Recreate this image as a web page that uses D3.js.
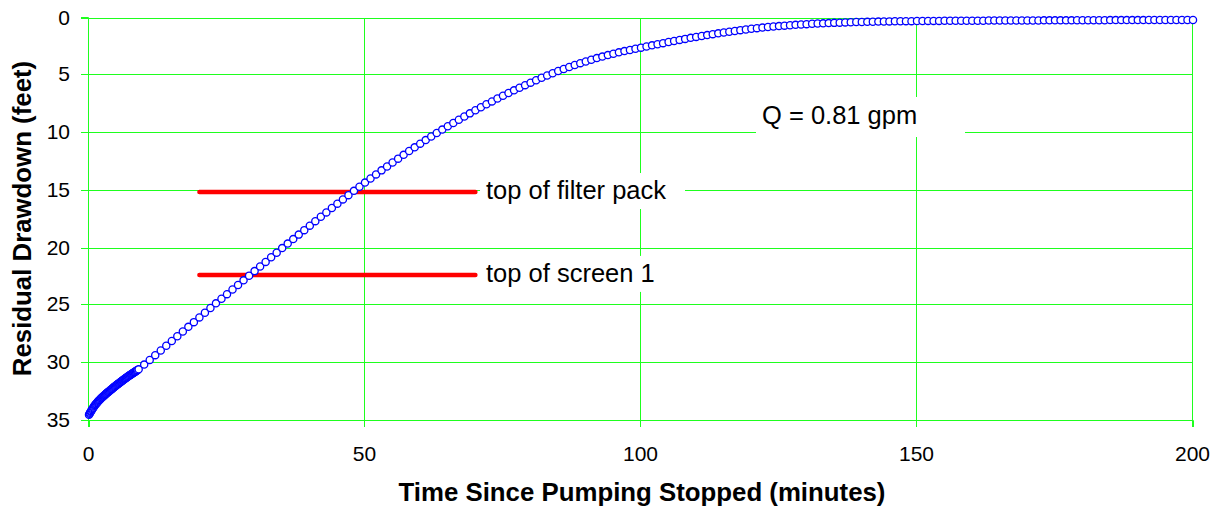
<!DOCTYPE html>
<html>
<head>
<meta charset="utf-8">
<script src="https://cdn.jsdelivr.net/npm/d3@7"></script>
<style>
  html, body { margin: 0; padding: 0; background: #fff; }
  svg { display: block; }
  text { font-family: "Liberation Sans", Arial, sans-serif; fill: #000; }
</style>
</head>
<body>
<svg id="chart" width="1223" height="512"></svg>
<script>
// Recovery record: residual drawdown after the pump was shut off.
// Transducer logged every 6 seconds for the first minutes, then once per minute.
const earlyTimes = d3.range(89).map(i => i / 10);   // 0.0 … 8.8 min
const earlyDrawdown = [
  34.55, 34.46, 34.37, 34.29, 34.21, 34.13, 34.05, 33.98, 33.91, 33.83,
  33.76, 33.70, 33.64, 33.58, 33.52, 33.47, 33.42, 33.36, 33.31, 33.26,
  33.21, 33.16, 33.12, 33.07, 33.03, 32.98, 32.94, 32.89, 32.85, 32.80,
  32.76, 32.72, 32.68, 32.64, 32.60, 32.56, 32.52, 32.48, 32.44, 32.40,
  32.36, 32.32, 32.28, 32.24, 32.20, 32.16, 32.12, 32.08, 32.04, 32.00,
  31.96, 31.92, 31.89, 31.85, 31.82, 31.78, 31.74, 31.71, 31.67, 31.64,
  31.60, 31.56, 31.53, 31.49, 31.46, 31.42, 31.38, 31.35, 31.31, 31.28,
  31.24, 31.21, 31.18, 31.14, 31.11, 31.08, 31.05, 31.02, 30.98, 30.95,
  30.92, 30.89, 30.86, 30.82, 30.79, 30.76, 30.73, 30.70, 30.66];

// one reading per minute, 9 through 200 minutes
const minuteTimes = d3.range(9, 201);
const minuteDrawdown = [
  30.60, 30.19, 29.78, 29.37, 28.96, 28.55, 28.14, 27.73, 27.32, 26.91, 26.50, 26.09, 25.68, 25.27,
  24.87, 24.47, 24.07, 23.67, 23.27, 22.87, 22.47, 22.07, 21.67, 21.27, 20.87, 20.47, 20.07,
  19.68, 19.29, 18.90, 18.51, 18.12, 17.73, 17.35, 16.97, 16.59, 16.21, 15.84, 15.47, 15.10,
  14.74, 14.38, 14.02, 13.67, 13.32, 12.98, 12.64, 12.30, 11.97, 11.64, 11.32, 11.00, 10.69,
  10.38, 10.08, 9.78, 9.49, 9.20, 8.92, 8.64, 8.37, 8.10,
  7.84, 7.58, 7.33, 7.08, 6.84, 6.60, 6.37, 6.14, 5.92, 5.70, 5.49, 5.28, 5.08, 4.88,
  4.69, 4.51, 4.34, 4.17, 4.01, 3.86, 3.71, 3.57, 3.44, 3.31, 3.19, 3.07, 2.96, 2.86, 2.76, 2.66,
  2.56, 2.46,
  2.37, 2.27, 2.17, 2.08, 1.99, 1.90, 1.81, 1.73, 1.65, 1.57, 1.49, 1.42, 1.35, 1.28, 1.21, 1.14,
  1.08, 1.02, 0.97, 0.92, 0.87, 0.83, 0.79, 0.75, 0.71, 0.68, 0.65, 0.62, 0.59, 0.57, 0.55, 0.53,
  0.51, 0.49, 0.47, 0.46, 0.44, 0.43, 0.42, 0.41, 0.40, 0.39, 0.38, 0.37, 0.37, 0.36, 0.36, 0.35,
  0.35, 0.34, 0.34, 0.34, 0.33, 0.33, 0.33, 0.33, 0.32, 0.32,
  0.32, 0.32, 0.31, 0.31, 0.31, 0.31, 0.31, 0.30, 0.30, 0.30,
  0.30, 0.30, 0.29, 0.29, 0.29, 0.29, 0.29, 0.29, 0.28, 0.28,
  0.28, 0.28, 0.28, 0.28, 0.27, 0.27, 0.27, 0.27, 0.27, 0.27,
  0.27, 0.26, 0.26, 0.26, 0.26, 0.26, 0.26, 0.26, 0.26, 0.26];

// Reference depths in the well (feet below static level)
const markerNames = ["top of filter pack", "top of screen 1"];
const markerDepths = [15.2, 22.4];
const markerSpan = [20, 70];          // minutes covered by the reference bars

const flowLabel = "Q = 0.81 gpm";

const xTicks = [0, 50, 100, 150, 200];
const yTicks = [0, 5, 10, 15, 20, 25, 30, 35];
const xTitle = "Time Since Pumping Stopped (minutes)";
const yTitle = "Residual Drawdown (feet)";

// ---- layout ----
const plot = { left: 89, right: 1193, top: 17, bottom: 420 };
const GRID = "#1eff1e";
const FONT = '"Liberation Sans", Arial, sans-serif';

const points = earlyTimes.map((t, i) => ({ t, d: earlyDrawdown[i] }))
  .concat(minuteTimes.map((t, i) => ({ t, d: minuteDrawdown[i] })));

const svg = d3.select("#chart");
const x = d3.scaleLinear().domain([0, 200]).range([plot.left, plot.right]);
const y = d3.scaleLinear().domain([0, 35]).range([plot.top, plot.bottom]);
// pixel-snapped copies (even pixel rows/columns) for the grid and the axes
const floorEven = (a, b) => t => Math.floor((a + (b - a) * t) / 2) * 2;
const roundEven = (a, b) => t => Math.round((a + (b - a) * t) / 2) * 2;
const xr = x.copy().interpolate(floorEven);
const yr = y.copy().interpolate(roundEven);
const gx0 = xr(0), gx1 = xr(200), gy0 = yr(0), gy1 = yr(35);

// gridlines
const grid = svg.append("g");
grid.selectAll(".gh").data(yTicks).join("line").attr("class", "gh")
  .attr("x1", gx0).attr("x2", gx1 + 1)
  .attr("y1", d => yr(d) + 0.5).attr("y2", d => yr(d) + 0.5)
  .attr("stroke", GRID).attr("stroke-width", 1);
grid.selectAll(".gv").data(xTicks).join("line").attr("class", "gv")
  .attr("y1", gy0).attr("y2", gy1 + 1)
  .attr("x1", d => xr(d) + 0.5).attr("x2", d => xr(d) + 0.5)
  .attr("stroke", GRID).attr("stroke-width", 1);

// axes (ticks outside the plot, green like the grid)
const yAxis = svg.append("g")
  .attr("transform", `translate(${gx0},0)`)
  .call(d3.axisLeft(yr).tickValues(yTicks).tickSize(7).tickPadding(11));
const xAxis = svg.append("g")
  .attr("transform", `translate(0,${gy1})`)
  .call(d3.axisBottom(xr).tickValues(xTicks).tickSize(7).tickPadding(19));
[yAxis, xAxis].forEach(g => {
  g.select(".domain").attr("stroke", GRID);
  g.selectAll(".tick line").attr("stroke", GRID);
  g.selectAll(".tick text")
    .attr("font-family", FONT)
    .attr("font-size", 21).attr("fill", "#000");
});
yAxis.selectAll(".tick text").attr("dy", "0.3em");

// labelled reference bars, each with a white text box behind its label
const labelBoxes = [
  { x: 480, w: 205, top: -26, h: 36, tx: 486 },
  { x: 480, w: 183, top: -26, h: 36, tx: 486 }
];
markerNames.forEach((name, i) => {
  const yy = y(markerDepths[i]);
  svg.append("line")
    .attr("x1", x(markerSpan[0])).attr("x2", x(markerSpan[1]))
    .attr("y1", yy).attr("y2", yy)
    .attr("stroke", "#ff0000").attr("stroke-width", 4.5).attr("stroke-linecap", "round");
  const b = labelBoxes[i];
  const base = yy + 7;
  svg.append("rect").attr("x", b.x).attr("y", base + b.top)
    .attr("width", b.w).attr("height", b.h).attr("fill", "#fff");
  svg.append("text").attr("x", b.tx).attr("y", base)
    .attr("font-size", 25.5).text(name);
});

// flow-rate note
svg.append("rect").attr("x", 756).attr("y", 97).attr("width", 209).attr("height", 40).attr("fill", "#fff");
svg.append("text").attr("x", 762).attr("y", 124).attr("font-size", 25.5).text(flowLabel);

// data markers
svg.append("g").selectAll("circle").data(points).join("circle")
  .attr("cx", d => x(d.t)).attr("cy", d => y(d.d))
  .attr("r", 3.6)
  .attr("fill", "#fff").attr("stroke", "#0000ff").attr("stroke-width", 1.3);

// axis titles
svg.append("text")
  .attr("x", (plot.left + plot.right) / 2 + 1).attr("y", 501)
  .attr("text-anchor", "middle").attr("font-weight", "bold").attr("font-size", 25.8)
  .text(xTitle);
svg.append("text")
  .attr("transform", `translate(31,${(plot.top + plot.bottom) / 2}) rotate(-90)`)
  .attr("text-anchor", "middle").attr("font-weight", "bold").attr("font-size", 25.8)
  .text(yTitle);
</script>
</body>
</html>
